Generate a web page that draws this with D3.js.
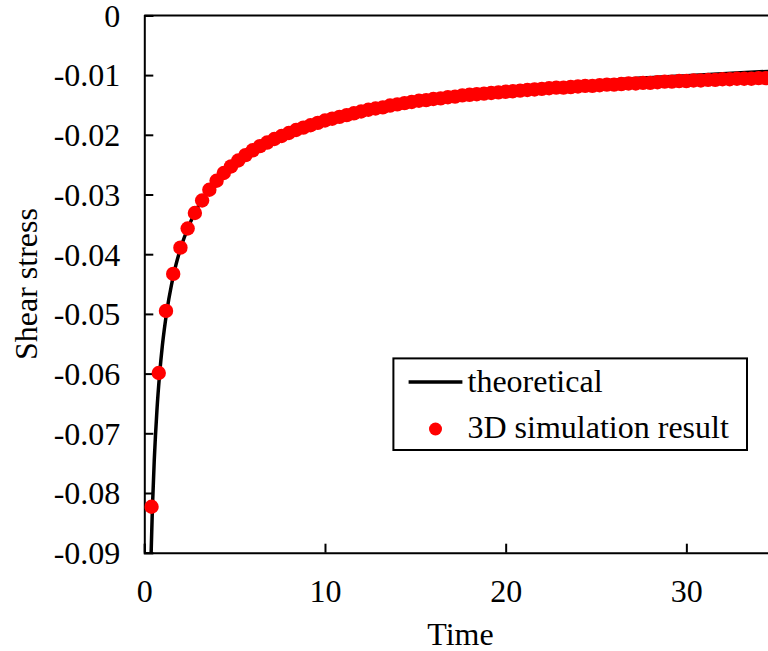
<!DOCTYPE html>
<html>
<head>
<meta charset="utf-8">
<script src="https://cdn.jsdelivr.net/npm/d3@7"></script>
<style>
  html, body { margin: 0; padding: 0; background: #fff; overflow: hidden; }
  svg { display: block; }
  text { font-family: "Liberation Serif", "Times New Roman", serif; fill: #000; }
</style>
</head>
<body>
<svg id="chart" width="768" height="651"></svg>
<script>
// Theoretical shear stress curve (time, stress)
const theoryTime = [0.37, 0.45, 0.55, 0.7, 0.85, 1.0, 1.25, 1.5, 1.75, 2.0, 2.5, 3.0, 3.5, 4.0, 5.0,
  6.0, 7.0, 8.0, 9.0, 10, 12, 14, 16, 18, 20, 22.5, 25, 27.5, 30, 32.5, 35];
const theoryStress = [-0.0909, -0.0824, -0.0746, -0.0661, -0.0600, -0.0553, -0.0495, -0.0452, -0.0418,
  -0.0391, -0.0350, -0.0319, -0.0296, -0.0277, -0.0247, -0.0226, -0.0209, -0.0196, -0.0184, -0.0175,
  -0.0160, -0.0148, -0.0138, -0.0130, -0.0124, -0.0117, -0.0111, -0.0105, -0.0101, -0.0097, -0.0093];

// 3D simulation output samples (time, stress)
const simTime = [0.4, 0.8, 1.2, 1.6, 2.0, 2.4, 2.8, 3.2, 3.6, 4.0, 4.4, 4.8, 5.2, 5.6, 6.0, 6.4, 6.8,
  7.2, 7.6, 8.0, 8.4, 8.8, 9.2, 9.6, 10.0, 10.4, 10.8, 11.2, 11.6, 12.0, 12.4, 12.8, 13.2, 13.6, 14.0,
  14.4, 14.8, 15.2, 15.6, 16.0, 16.4, 16.8, 17.2, 17.6, 18.0, 18.4, 18.8, 19.2, 19.6, 20.0, 20.4, 20.8,
  21.2, 21.6, 22.0, 22.4, 22.8, 23.2, 23.6, 24.0, 24.4, 24.8, 25.2, 25.6, 26.0, 26.4, 26.8, 27.2, 27.6,
  28.0, 28.4, 28.8, 29.2, 29.6, 30.0, 30.4, 30.8, 31.2, 31.6, 32.0, 32.4, 32.8, 33.2, 33.6, 34.0, 34.4, 34.8];
const simStress = [-0.0823, -0.0599, -0.0495, -0.0433, -0.0389, -0.0357, -0.0331, -0.0310, -0.0292,
  -0.0277, -0.0264, -0.0253, -0.0243, -0.0234, -0.0226, -0.0219, -0.0213, -0.0207, -0.0202, -0.0197,
  -0.0192, -0.0188, -0.0184, -0.0180, -0.0176, -0.0173, -0.0170, -0.0167, -0.0164, -0.0161, -0.0158,
  -0.0156, -0.0154, -0.0151, -0.0149, -0.0147, -0.0145, -0.0143, -0.0142, -0.0140, -0.0139, -0.0137,
  -0.0136, -0.0134, -0.0133, -0.0132, -0.0131, -0.0130, -0.0129, -0.0128, -0.0127, -0.0126, -0.0125,
  -0.0124, -0.0123, -0.0122, -0.0121, -0.0121, -0.0120, -0.0119, -0.0118, -0.0118, -0.0117, -0.0116,
  -0.0116, -0.0115, -0.0114, -0.0114, -0.0113, -0.0113, -0.0112, -0.0111, -0.0111, -0.0110, -0.0110,
  -0.0109, -0.0109, -0.0108, -0.0108, -0.0107, -0.0107, -0.0106, -0.0106, -0.0106, -0.0105, -0.0105, -0.0104];

// Axis ticks and labels
const xTicks = [0, 10, 20, 30];
const yTicks = [0, -0.01, -0.02, -0.03, -0.04, -0.05, -0.06, -0.07, -0.08, -0.09];
const xTitle = "Time";
const yTitle = "Shear stress";
const legendLabels = ["theoretical", "3D simulation result"];

const svg = d3.select("#chart");
const plot = { left: 144.3, right: 776.7, top: 15.4, bottom: 552.7 };

const x = d3.scaleLinear().domain([0, 35]).range([plot.left, plot.right]);
const y = d3.scaleLinear().domain([-0.09, 0]).range([plot.bottom, plot.top]);

const fontSize = 32;
const serif = "'Liberation Serif', 'Times New Roman', serif";

svg.append("defs").append("clipPath").attr("id", "plot-clip")
  .append("rect")
  .attr("x", plot.left).attr("y", plot.top)
  .attr("width", plot.right - plot.left).attr("height", plot.bottom - plot.top);

// Frame: top border line
svg.append("line")
  .attr("x1", plot.left).attr("x2", plot.right)
  .attr("y1", plot.top).attr("y2", plot.top)
  .attr("stroke", "#000").attr("stroke-width", 2);

// Y axis with inward ticks; labels use a plain hyphen for the sign
const yAxis = d3.axisRight(y).tickValues(yTicks).tickSize(9)
  .tickFormat(d => d === 0 ? "0" : d.toFixed(2));
const gy = svg.append("g").attr("transform", `translate(${plot.left},0)`).call(yAxis);
gy.attr("font-family", null).attr("font-size", null);
gy.select(".domain").attr("stroke", "#000").attr("stroke-width", 2);
gy.selectAll(".tick line").attr("stroke", "#000").attr("stroke-width", 2);
gy.selectAll(".tick text")
  .attr("x", -24).attr("dy", "0.34em")
  .attr("text-anchor", "end")
  .style("font-size", fontSize + "px")
  .style("font-family", serif);

// X axis with inward ticks
const xAxis = d3.axisTop(x).tickValues(xTicks).tickSize(9).tickFormat(d => String(d));
const gx = svg.append("g").attr("transform", `translate(0,${plot.bottom})`).call(xAxis);
gx.attr("font-family", null).attr("font-size", null);
gx.select(".domain").attr("stroke", "#000").attr("stroke-width", 2);
gx.selectAll(".tick line").attr("stroke", "#000").attr("stroke-width", 2);
gx.selectAll(".tick text")
  .attr("y", 49).attr("dy", 0)
  .attr("text-anchor", "middle")
  .style("font-size", fontSize + "px")
  .style("font-family", serif);

// Axis titles
svg.append("text")
  .attr("x", (plot.left + plot.right) / 2).attr("y", 645)
  .attr("text-anchor", "middle")
  .style("font-size", fontSize + "px")
  .text(xTitle);

svg.append("text")
  .attr("transform", `translate(37,${(plot.top + plot.bottom) / 2}) rotate(-90)`)
  .attr("text-anchor", "middle")
  .style("font-size", fontSize + "px")
  .text(yTitle);

// Data layers
const layer = svg.append("g").attr("clip-path", "url(#plot-clip)");

const theory = theoryTime.map((t, i) => [t, theoryStress[i]]);
const line = d3.line().x(d => x(d[0])).y(d => y(d[1])).curve(d3.curveMonotoneX);

layer.append("path")
  .datum(theory)
  .attr("d", line)
  .attr("fill", "none")
  .attr("stroke", "#000")
  .attr("stroke-width", 3.5);

const sim = simTime.map((t, i) => [t, simStress[i]]);
layer.selectAll("circle.sim")
  .data(sim)
  .join("circle")
  .attr("class", "sim")
  .attr("cx", d => x(d[0]))
  .attr("cy", d => y(d[1]))
  .attr("r", 7.2)
  .attr("fill", "#ff0000");

// Legend
const legend = svg.append("g");
legend.append("rect")
  .attr("x", 393.4).attr("y", 358.4)
  .attr("width", 353.6).attr("height", 91.6)
  .attr("fill", "#fff").attr("stroke", "#000").attr("stroke-width", 2);
legend.append("line")
  .attr("x1", 408.6).attr("x2", 462.4).attr("y1", 382).attr("y2", 382)
  .attr("stroke", "#000").attr("stroke-width", 3.5);
legend.append("text")
  .attr("x", 467.5).attr("y", 392)
  .style("font-size", fontSize + "px")
  .text(legendLabels[0]);
legend.append("circle")
  .attr("cx", 435.5).attr("cy", 429).attr("r", 6.5)
  .attr("fill", "#ff0000");
legend.append("text")
  .attr("x", 467.5).attr("y", 438)
  .style("font-size", fontSize + "px")
  .text(legendLabels[1]);
</script>
</body>
</html>
